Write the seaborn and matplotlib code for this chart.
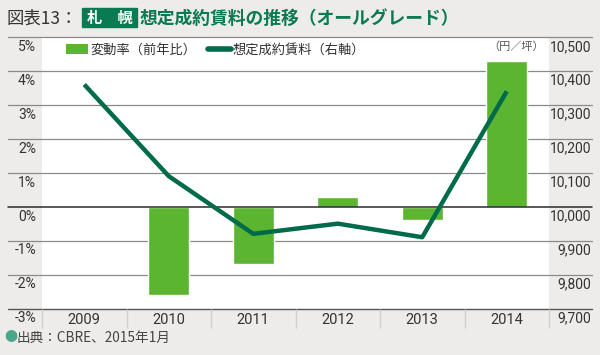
import numpy as np
import pandas as pd
import matplotlib
matplotlib.use("Agg")
import matplotlib.pyplot as plt
import matplotlib.transforms as mtransforms
from matplotlib.patches import Patch, Rectangle
from matplotlib.lines import Line2D
import seaborn as sns

sns.set_style("white")
plt.rcParams['font.family'] = ['Noto Sans CJK JP', 'DejaVu Sans']

# data
years = ['2009', '2010', '2011', '2012', '2013', '2014']
change_pct = [0.0, -2.6, -1.7, 0.3, -0.4, 4.3]          # 変動率（前年比）, %
rent = [10360, 10090, 9920, 9950, 9910, 10340]          # 想定成約賃料, 円/坪
left_ticks = [-3, -2, -1, 0, 1, 2, 3, 4, 5]
right_ticks = [9700, 9800, 9900, 10000, 10100, 10200, 10300, 10400, 10500]

BG = '#edecea'
BAR = '#5cb531'
LINE = '#006b4a'
TITLE_GREEN = '#0a7a52'
NUM_FONT = ['Roboto', 'DejaVu Sans']
NUM_SIZE = 10

W, H = 600, 355
fig = plt.figure(figsize=(6, 3.55), dpi=100, facecolor=BG)
ax = fig.add_axes([42 / W, 1 - 308.5 / H, 507 / W, (308.5 - 37) / H])
ax.set_facecolor('white')

df = pd.DataFrame({'year': years, 'change': change_pct})
sns.barplot(data=df, x='year', y='change', color=BAR, saturation=1,
            width=0.48, ax=ax, zorder=3)
ax.set_xlim(-0.5, len(years) - 0.5)
ax.set_ylim(left_ticks[0], left_ticks[-1])

ax2 = ax.twinx()
sns.lineplot(x=np.arange(len(years)), y=rent, color=LINE, lw=3.2,
             ax=ax2, zorder=4, solid_capstyle='butt')
ax2.set_ylim(right_ticks[0], right_ticks[-1])

for a in (ax, ax2):
    for s in a.spines.values():
        s.set_visible(False)
    a.set_ylabel('')
    a.set_xlabel('')
    a.set_yticks([])
ax.tick_params(axis='x', length=0, pad=3)
for lab in ax.get_xticklabels():
    lab.set_family(NUM_FONT)
    lab.set_fontsize(NUM_SIZE + 0.5)
    lab.set_color('#333333')

# grid lines running across the whole figure width
trans = mtransforms.blended_transform_factory(fig.transFigure, ax.transData)
for v in left_ticks:
    if v == 0:
        c, lw = '#2a2a2a', 1.1
    elif v == left_ticks[0]:
        c, lw = '#555555', 1.0
    else:
        c, lw = '#8a8a8a', 0.9
    ax.plot([8 / W, 592 / W], [v, v], transform=trans, color=c, lw=lw,
            clip_on=False, zorder=2 if v != 0 else 5)

# tick labels on both sides
tl = mtransforms.blended_transform_factory(ax.transAxes, ax.transData)
for v in left_ticks:
    ax.text(-6 / 507, v - 0.29, f'{v}%', transform=tl, ha='right', va='center',
            fontsize=NUM_SIZE, family=NUM_FONT, color='#333333')
tr = mtransforms.blended_transform_factory(ax2.transAxes, ax2.transData)
for v in right_ticks:
    ax2.text(549 / 507, v - 29, f'{v:,}', transform=tr, ha='right', va='center',
             fontsize=NUM_SIZE, family=NUM_FONT, color='#333333')

# separators in the year strip
ax.vlines(np.arange(-0.5, len(years)), left_ticks[0] - 0.58, left_ticks[0],
          color='#cfcfcf', lw=1, clip_on=False)

# legend
handles = [Patch(facecolor=BAR, edgecolor='none'),
           Line2D([0], [0], color=LINE, lw=4)]
fig.legend(handles, ['変動率（前年比）', '想定成約賃料（右軸）'],
           loc='center left', bbox_to_anchor=(54 / W, 1 - 50 / H), ncol=2,
           frameon=False, fontsize=9.5, handlelength=1.7, handleheight=0.8,
           handletextpad=0.15, columnspacing=0.9, labelcolor='#333333')
fig.text(544 / W, 1 - 47 / H, '（円／坪）', ha='right', va='center',
         fontsize=8, color='#555555')

# title
fig.text(6 / W, 1 - 18.5 / H, '図表13：', ha='left', va='center',
         fontsize=12.5, color='#333333')
fig.patches.append(Rectangle((82 / W, 1 - 27 / H), 55 / W, 19 / H,
                             transform=fig.transFigure, color=TITLE_GREEN))
fig.text(109.5 / W, 1 - 18 / H, '札　幌', ha='center', va='center',
         fontsize=11, color='white', fontweight='bold')
fig.text(140 / W, 1 - 18.5 / H, '想定成約賃料の推移（オールグレード）',
         ha='left', va='center', fontsize=12.8, color=TITLE_GREEN,
         fontweight='bold')

# source note
fig.text(4 / W, 1 - 338 / H, '●', ha='left', va='center', fontsize=9.5,
         color='#4aa58b')
fig.text(17 / W, 1 - 338 / H, '出典：CBRE、2015年1月', ha='left', va='center',
         fontsize=9.8, color='#444444')

fig.savefig('out.png', dpi=100, facecolor=BG)
